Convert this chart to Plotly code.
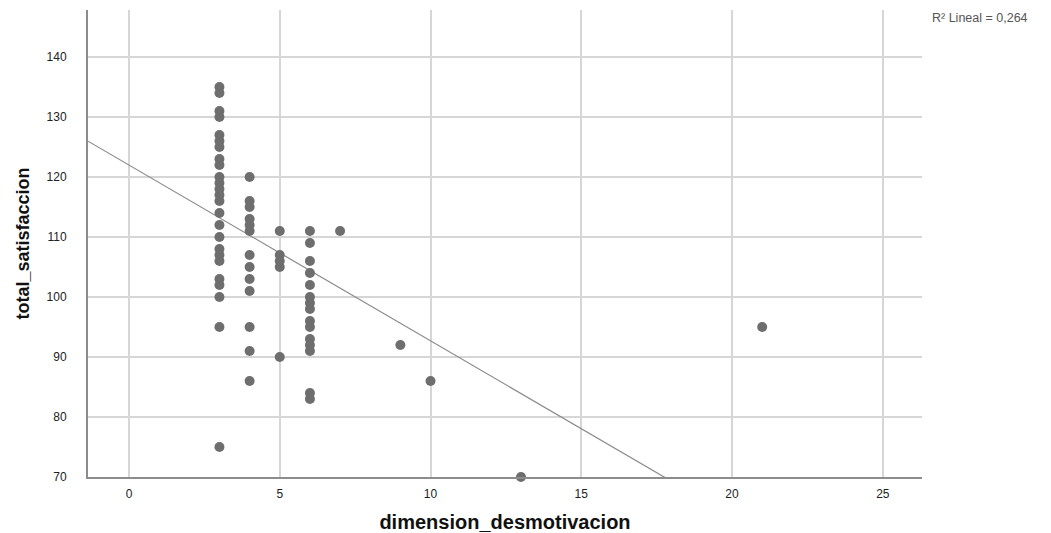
import plotly.graph_objects as go

# Data
x_values = (
    [3] * 25 + [4] * 13 + [5] * 5 + [6] * 15 + [7, 9, 10, 13, 21]
)
y_col3 = [135, 134, 131, 130, 127, 126, 125, 123, 122, 120, 119, 118, 117, 116,
          114, 112, 110, 108, 107, 106, 103, 102, 100, 95, 75]
y_col4 = [120, 116, 115, 113, 112, 111, 107, 105, 103, 101, 95, 91, 86]
y_col5 = [111, 107, 106, 105, 90]
y_col6 = [111, 109, 106, 104, 102, 100, 99, 98, 96, 95, 93, 92, 91, 84, 83]
y_other = [111, 92, 86, 70, 95]
y_values = y_col3 + y_col4 + y_col5 + y_col6 + y_other

# Linear fit shown in the reference (R² = 0,264)
fit_intercept = 122.0
fit_slope = -2.93
fit_x = [-1.36, 26.3]
r2_label = "R² Lineal = 0,264"

x_ticks = [0, 5, 10, 15, 20, 25]
y_ticks = [70, 80, 90, 100, 110, 120, 130, 140]

fig = go.Figure()
fig.add_trace(go.Scatter(
    x=fit_x,
    y=[fit_intercept + fit_slope * v for v in fit_x],
    mode="lines",
    line=dict(color="#8a8a8a", width=1.2),
    hoverinfo="skip",
    showlegend=False,
))
fig.add_trace(go.Scatter(
    x=x_values, y=y_values, mode="markers",
    marker=dict(color="#6e6e6e", size=10, line=dict(width=0)),
    cliponaxis=False,
    showlegend=False,
))

font_family = "Liberation Sans, Arial, sans-serif"
fig.update_layout(
    width=1043, height=525,
    margin=dict(l=80, r=129, t=2, b=54),
    paper_bgcolor="white", plot_bgcolor="white",
    font=dict(family=font_family, color="#222"),
    xaxis=dict(
        range=[-1.36, 26.3], tickvals=x_ticks, showgrid=True,
        gridcolor="#d6d6d6", gridwidth=1.5, zeroline=False,
        showline=True, linecolor="#8c8c8c", linewidth=2,
        ticks="", ticklabelstandoff=5, tickfont=dict(size=12, color="#222"),
        title=dict(text="<b>dimension_desmotivacion</b>",
                   font=dict(size=20, color="#111"), standoff=16),
    ),
    yaxis=dict(
        range=[70, 147.85], tickvals=y_ticks, showgrid=True,
        gridcolor="#d6d6d6", gridwidth=1.5, zeroline=False,
        showline=True, linecolor="#8c8c8c", linewidth=2,
        ticks="", ticklabelstandoff=17, tickfont=dict(size=12, color="#222"),
        title=dict(text="<b>total_satisfaccion</b>",
                   font=dict(size=18, color="#111"), standoff=12),
    ),
    annotations=[dict(
        text=r2_label, xref="paper", yref="paper", x=1.0096, y=0.983,
        xanchor="left", yanchor="middle", showarrow=False,
        font=dict(size=12.5, color="#555"),
    )],
)

fig.write_html("out.html")
